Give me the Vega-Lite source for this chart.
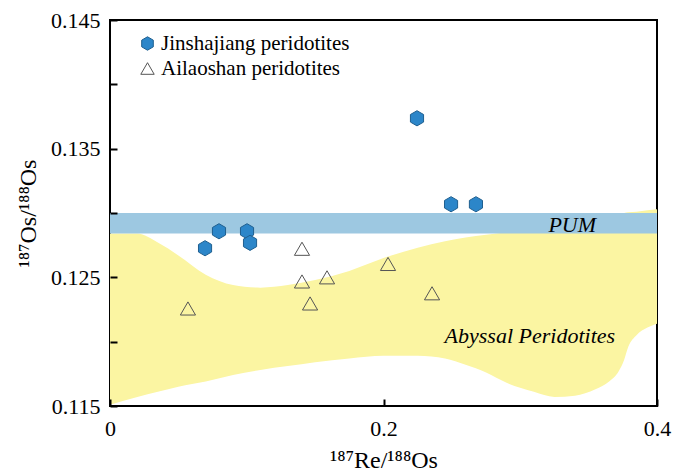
{
  "$schema": "https://vega.github.io/schema/vega-lite/v6.json",
  "width": 547,
  "height": 386,
  "autosize": {"type": "none"},
  "padding": {"left": 110, "top": 20, "right": 16, "bottom": 67},
  "background": "white",
  "config": {
    "view": {"stroke": "black", "strokeWidth": 2},
    "font": "Liberation Serif, Times New Roman, serif"
  },
  "datasets": {
    "abyssal": [
      {"x": 0, "upper": 0.1284, "lower": 0.1151},
      {"x": 0.02, "upper": 0.1284, "lower": 0.1157},
      {"x": 0.035, "upper": 0.1277, "lower": 0.1161},
      {"x": 0.05, "upper": 0.1267, "lower": 0.1165},
      {"x": 0.07, "upper": 0.1252, "lower": 0.1169},
      {"x": 0.09, "upper": 0.1244, "lower": 0.1174},
      {"x": 0.11, "upper": 0.1242, "lower": 0.1178},
      {"x": 0.13, "upper": 0.1244, "lower": 0.1181},
      {"x": 0.15, "upper": 0.1248, "lower": 0.1184},
      {"x": 0.175, "upper": 0.1255, "lower": 0.1187},
      {"x": 0.2, "upper": 0.1265, "lower": 0.1189},
      {"x": 0.225, "upper": 0.1273, "lower": 0.1189},
      {"x": 0.245, "upper": 0.1278, "lower": 0.1187},
      {"x": 0.26, "upper": 0.1281, "lower": 0.1182},
      {"x": 0.275, "upper": 0.1283, "lower": 0.1176},
      {"x": 0.29, "upper": 0.1285, "lower": 0.1168},
      {"x": 0.31, "upper": 0.1288, "lower": 0.1161},
      {"x": 0.325, "upper": 0.1291, "lower": 0.1157},
      {"x": 0.34, "upper": 0.1293, "lower": 0.1158},
      {"x": 0.355, "upper": 0.1296, "lower": 0.1163},
      {"x": 0.365, "upper": 0.1298, "lower": 0.1169},
      {"x": 0.372, "upper": 0.12995, "lower": 0.1177},
      {"x": 0.376, "upper": 0.13, "lower": 0.1186},
      {"x": 0.379, "upper": 0.13005, "lower": 0.1196},
      {"x": 0.385, "upper": 0.1301, "lower": 0.1205},
      {"x": 0.393, "upper": 0.13022, "lower": 0.1211},
      {"x": 0.4, "upper": 0.1303, "lower": 0.1214}
    ],
    "pum": [
      {"x0": 0, "x1": 0.4, "y0": 0.1284, "y1": 0.13}
    ],
    "pts": [
      {"series": "Jinshajiang peridotites", "x": 0.0695, "y": 0.12726},
      {"series": "Jinshajiang peridotites", "x": 0.0797, "y": 0.12858},
      {"series": "Jinshajiang peridotites", "x": 0.1002, "y": 0.12858},
      {"series": "Jinshajiang peridotites", "x": 0.1024, "y": 0.12768},
      {"series": "Jinshajiang peridotites", "x": 0.2245, "y": 0.13736},
      {"series": "Jinshajiang peridotites", "x": 0.2494, "y": 0.13068},
      {"series": "Jinshajiang peridotites", "x": 0.2676, "y": 0.13068},
      {"series": "Ailaoshan peridotites", "x": 0.057, "y": 0.12258},
      {"series": "Ailaoshan peridotites", "x": 0.1404, "y": 0.12722},
      {"series": "Ailaoshan peridotites", "x": 0.1404, "y": 0.12468},
      {"series": "Ailaoshan peridotites", "x": 0.1463, "y": 0.12297},
      {"series": "Ailaoshan peridotites", "x": 0.1587, "y": 0.125},
      {"series": "Ailaoshan peridotites", "x": 0.2033, "y": 0.12604},
      {"series": "Ailaoshan peridotites", "x": 0.2355, "y": 0.12376}
    ],
    "labels": [
      {"x": 0.338, "y": 0.1291, "text": "PUM"},
      {"x": 0.307, "y": 0.12042, "text": "Abyssal Peridotites"}
    ]
  },
  "layer": [
    {
      "data": {"name": "abyssal"},
      "mark": {"type": "area", "color": "#fbf5a2", "interpolate": "monotone", "opacity": 1},
      "encoding": {
        "x": {
          "field": "x", "type": "quantitative",
          "scale": {"domain": [0, 0.4], "nice": false, "zero": false},
          "axis": {
            "title": "¹⁸⁷Re/¹⁸⁸Os",
            "values": [0, 0.2, 0.4],
            "labelExpr": "datum.value == 0 ? '0' : format(datum.value, '.1f')",
            "grid": false,
            "domain": false,
            "offset": -7,
            "tickSize": 7,
            "tickWidth": 2,
            "tickColor": "black",
            "zindex": 1,
            "labelFont": "Liberation Serif",
            "labelFontSize": 22,
            "labelColor": "black",
            "labelPadding": 12,
            "labelFlush": false,
            "titleFont": "Liberation Serif",
            "titleFontSize": 24,
            "titleFontWeight": "normal",
            "titleColor": "black",
            "titlePadding": 9
          }
        },
        "y": {
          "field": "upper", "type": "quantitative",
          "scale": {"domain": [0.115, 0.145], "nice": false, "zero": false},
          "axis": {
            "title": "¹⁸⁷Os/¹⁸⁸Os",
            "values": [0.115, 0.12, 0.125, 0.13, 0.135, 0.14, 0.145],
            "labelExpr": "round(datum.value*1000) % 10 == 5 ? format(datum.value, '.3f') : ''",
            "grid": false,
            "domain": false,
            "offset": -7,
            "tickSize": 7,
            "tickWidth": 2,
            "tickColor": "black",
            "zindex": 1,
            "labelFont": "Liberation Serif",
            "labelFontSize": 22,
            "labelColor": "black",
            "labelPadding": 10,
            "labelFlush": false,
            "titleFont": "Liberation Serif",
            "titleFontSize": 24,
            "titleFontWeight": "normal",
            "titleColor": "black",
            "titlePadding": 10
          }
        },
        "y2": {"field": "lower"}
      }
    },
    {
      "data": {"name": "pum"},
      "mark": {"type": "rect", "color": "#9dc8e1", "opacity": 1},
      "encoding": {
        "x": {"field": "x0", "type": "quantitative"},
        "x2": {"field": "x1"},
        "y": {"field": "y0", "type": "quantitative"},
        "y2": {"field": "y1"}
      }
    },
    {
      "data": {"name": "pts"},
      "mark": {"type": "point", "size": 230, "strokeWidth": 1, "opacity": 1},
      "encoding": {
        "x": {"field": "x", "type": "quantitative"},
        "y": {"field": "y", "type": "quantitative"},
        "shape": {
          "field": "series", "type": "nominal",
          "scale": {
            "domain": ["Jinshajiang peridotites", "Ailaoshan peridotites"],
            "range": ["M0,-1L0.866,-0.5L0.866,0.5L0,1L-0.866,0.5L-0.866,-0.5Z", "triangle-up"]
          },
          "legend": {
            "title": null,
            "orient": "none",
            "legendX": 27,
            "legendY": 13,
            "labelFontSize": 21,
            "labelFont": "Liberation Serif",
            "labelColor": "black",
            "labelLimit": 0,
            "symbolSize": 180,
            "symbolStrokeWidth": 1,
            "rowPadding": 3,
            "labelOffset": 3
          }
        },
        "fill": {
          "field": "series", "type": "nominal",
          "scale": {
            "domain": ["Jinshajiang peridotites", "Ailaoshan peridotites"],
            "range": ["#2c86c9", "transparent"]
          }
        },
        "stroke": {
          "field": "series", "type": "nominal",
          "scale": {
            "domain": ["Jinshajiang peridotites", "Ailaoshan peridotites"],
            "range": ["#1f5f8f", "#555555"]
          }
        }
      }
    },
    {
      "data": {"name": "labels"},
      "mark": {"type": "text", "font": "Liberation Serif", "fontStyle": "italic", "fontSize": 22, "color": "black", "align": "center", "baseline": "middle"},
      "encoding": {
        "x": {"field": "x", "type": "quantitative"},
        "y": {"field": "y", "type": "quantitative"},
        "text": {"field": "text"}
      }
    }
  ]
}
